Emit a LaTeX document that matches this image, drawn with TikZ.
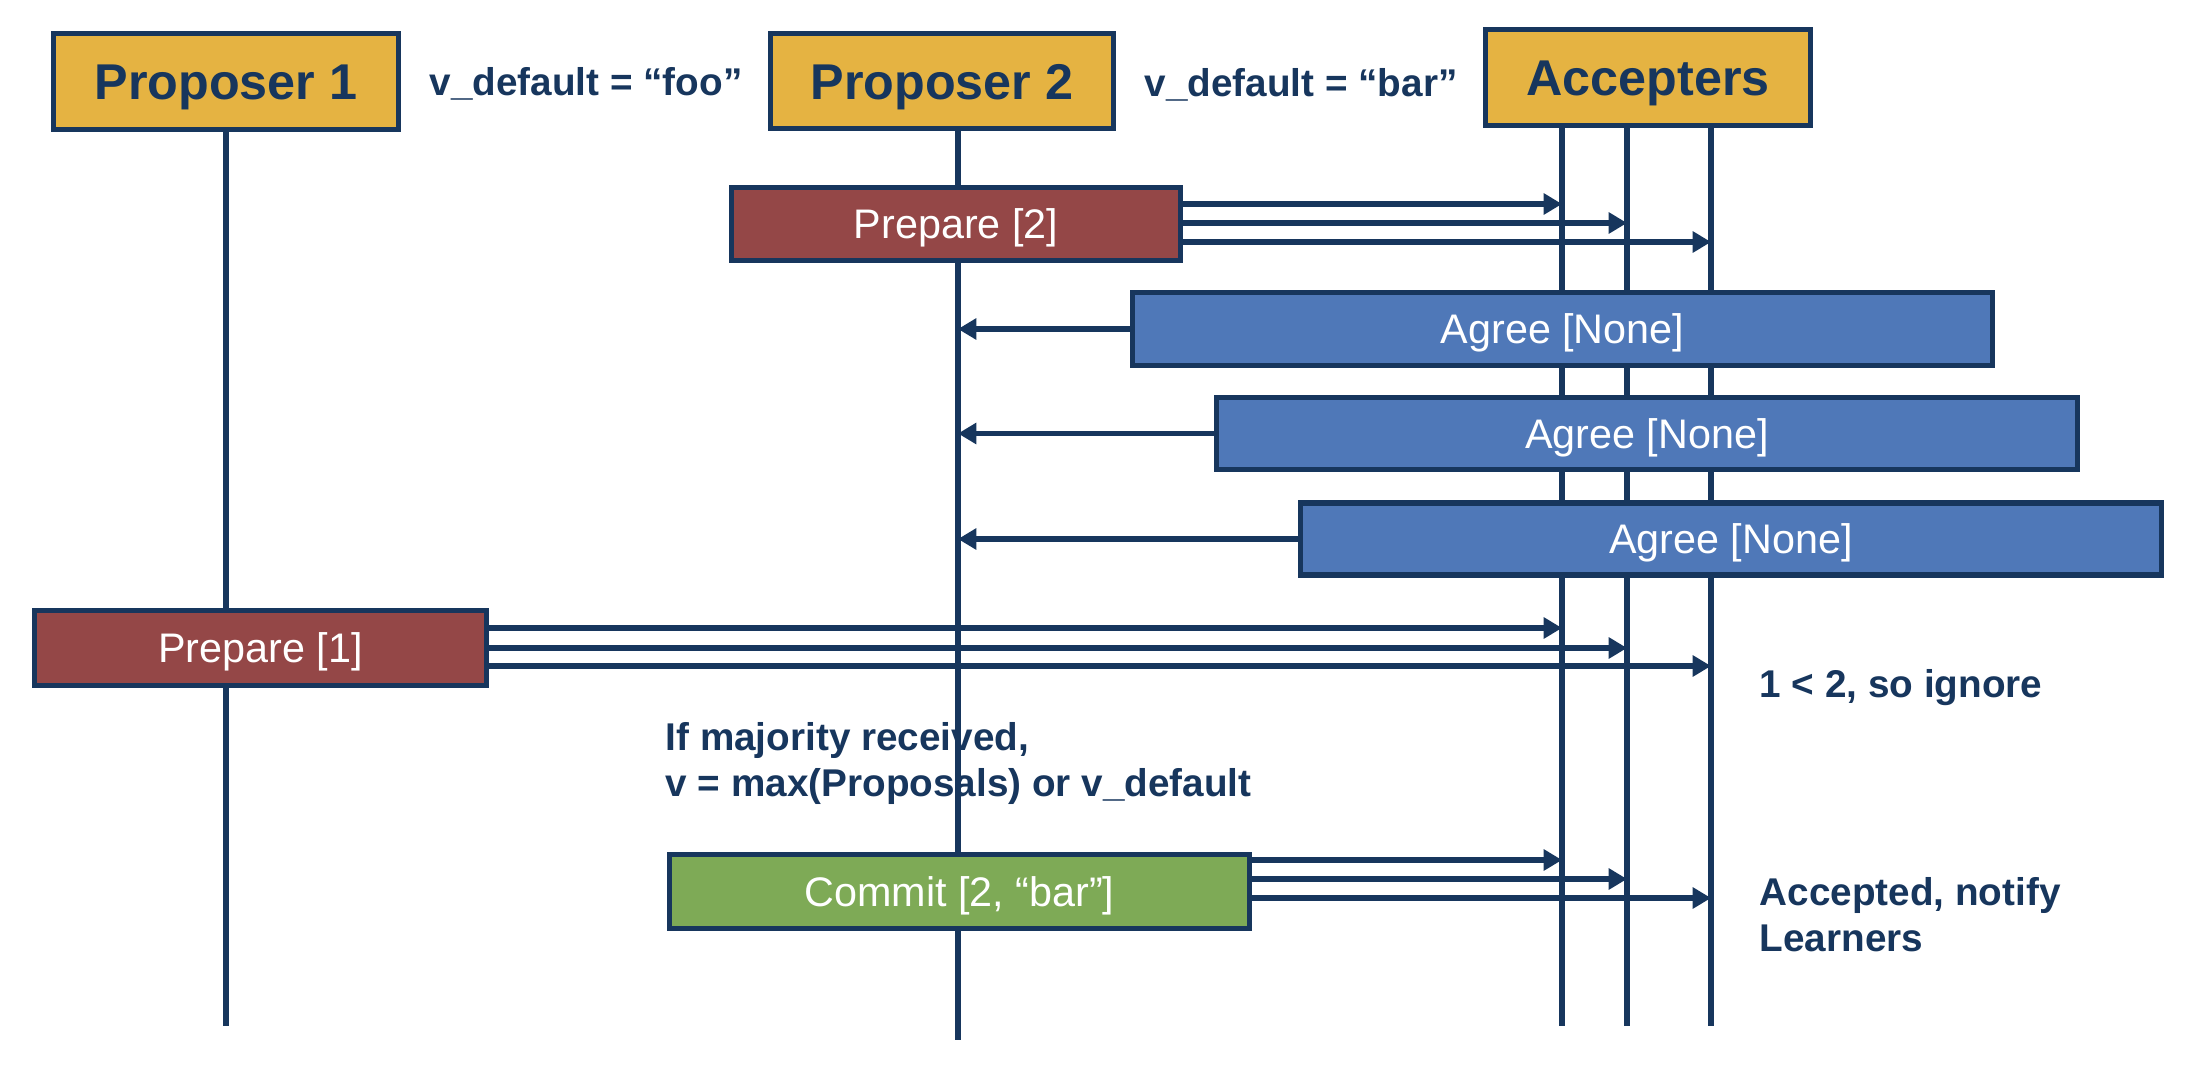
\documentclass[tikz,border=0pt]{standalone}
\usepackage{fontspec}
\setmainfont{Liberation Sans}
\usetikzlibrary{arrows.meta}
\definecolor{navy}{RGB}{23,54,93}
\definecolor{gold}{RGB}{229,179,66}
\definecolor{prepred}{RGB}{148,71,71}
\definecolor{agreeblue}{RGB}{79,120,184}
\definecolor{commitgreen}{RGB}{126,170,86}
\begin{document}
\begin{tikzpicture}[x=0.01cm,y=-0.01cm,
  actor/.style={draw=navy, line width=1.5pt, fill=gold, text=navy, inner sep=0pt,
    text height=10.25pt, text depth=0pt,
    font=\fontsize{14.3}{17}\selectfont\bfseries},
  msgbox/.style={draw=navy, line width=1.5pt, text=white, inner sep=0pt,
    text height=8.4pt, text depth=0pt,
    font=\fontsize{11.75}{14}\selectfont},
  lifeline/.style={draw=navy, line width=1.5pt},
  msg/.style={draw=navy, line width=1.5pt, -{Triangle[length=5.2pt,width=5.8pt]}},
  note/.style={text=navy, inner sep=0pt, font=\fontsize{11}{13}\selectfont\bfseries, align=left}]
\useasboundingbox[fill=white] (0,0) rectangle (2212,1082);

% lifeline coordinates
\coordinate (p1end) at (226,1026);
\coordinate (p2top) at (958,131);
\coordinate (p2end) at (958,1040);
\coordinate (a1top) at (1562,128);
\coordinate (a2top) at (1627,128);
\coordinate (a3top) at (1711,128);
\coordinate (a1end) at (1562,1026);
\coordinate (a2end) at (1627,1026);
\coordinate (a3end) at (1711,1026);

% header boxes
\node[actor, minimum width=3.45cm, minimum height=0.96cm] (p1) at (226,81.5) {Proposer 1};
\node[actor, minimum width=3.43cm, minimum height=0.95cm] (p2) at (942,81) {Proposer 2};
\node[actor, minimum width=3.25cm, minimum height=0.96cm] (acc) at (1648,77.5) {Accepters};

% lifelines (behind message boxes)
\draw[lifeline] (p1.south) -- (p1end);
\draw[lifeline] (p2top) -- (p2end);
\draw[lifeline] (a1top) -- (a1end);
\draw[lifeline] (a2top) -- (a2end);
\draw[lifeline] (a3top) -- (a3end);

% default values
\node[note, anchor=base west] (vfoo) at (429,96) {v\_default = “foo”};
\node[note, anchor=base west] (vbar) at (1144,97) {v\_default = “bar”};

% Prepare [2]
\node[msgbox, fill=prepred, minimum width=4.49cm, minimum height=0.73cm] (prep2) at (956,224) {Prepare [2]};
\draw[msg] (prep2.east |- 0,204) -- (a1top |- 0,204);
\draw[msg] (prep2.east |- 0,223) -- (a2top |- 0,223);
\draw[msg] (prep2.east |- 0,242) -- (a3top |- 0,242);

% Agree replies
\node[msgbox, fill=agreeblue, minimum width=8.6cm, minimum height=0.73cm] (ag1) at (1562.5,329) {Agree [None]};
\node[msgbox, fill=agreeblue, minimum width=8.6cm, minimum height=0.72cm] (ag2) at (1647,433.5) {Agree [None]};
\node[msgbox, fill=agreeblue, minimum width=8.6cm, minimum height=0.72cm] (ag3) at (1731,539) {Agree [None]};
\draw[msg] (ag1.west) -- (p2top |- ag1.west);
\draw[msg] (ag2.west) -- (p2top |- ag2.west);
\draw[msg] (ag3.west) -- (p2top |- ag3.west);

% Prepare [1]
\node[msgbox, fill=prepred, minimum width=4.52cm, minimum height=0.75cm] (prep1) at (260.5,648) {Prepare [1]};
\draw[msg] (prep1.east |- 0,628) -- (a1top |- 0,628);
\draw[msg] (prep1.east |- 0,648) -- (a2top |- 0,648);
\draw[msg] (prep1.east |- 0,666) -- (a3top |- 0,666);
\node[note, anchor=base west] (ignore) at (1759,697) {1 < 2, so ignore};

% majority note
\node[note, anchor=north west] (major) at (665,722) {If majority received,\\v = max(Proposals) or v\_default};

% Commit
\node[msgbox, fill=commitgreen, minimum width=5.8cm, minimum height=0.74cm] (commit) at (959.5,891.5) {Commit [2, “bar”]};
\draw[msg] (commit.east |- 0,860) -- (a1top |- 0,860);
\draw[msg] (commit.east |- 0,879) -- (a2top |- 0,879);
\draw[msg] (commit.east |- 0,898) -- (a3top |- 0,898);
\node[note, anchor=north west] (accepted) at (1759,877) {Accepted, notify\\Learners};
\end{tikzpicture}
\end{document}
